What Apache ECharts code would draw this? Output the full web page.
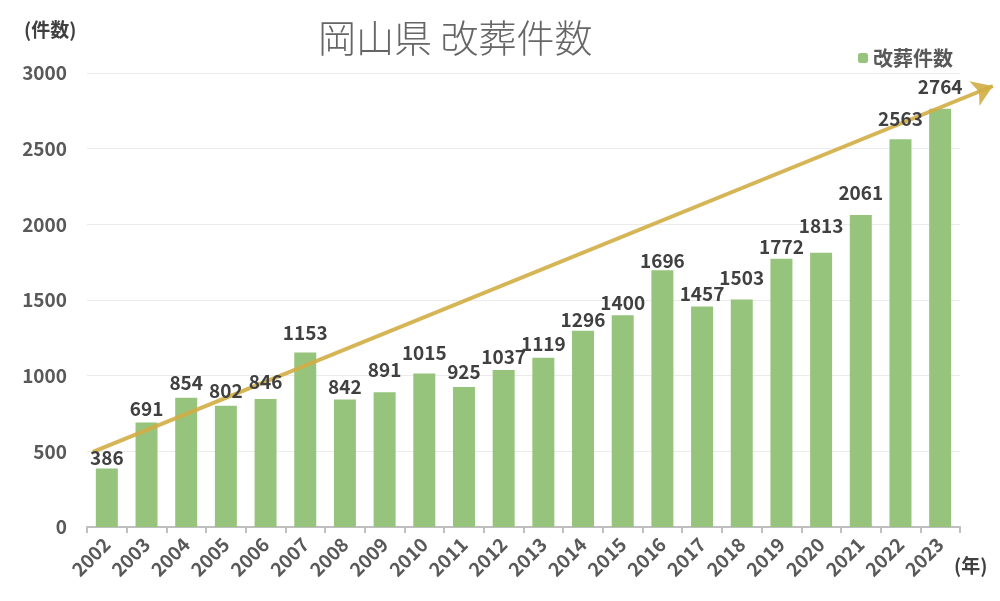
<!DOCTYPE html>
<html><head><meta charset="utf-8">
<script src="https://cdn.jsdelivr.net/npm/echarts@6/dist/echarts.min.js"></script>
<style>html,body{margin:0;padding:0;background:#fff}#c{width:1000px;height:601px}</style>
</head><body><div id="c"></div>
<script>
const years = ['2002','2003','2004','2005','2006','2007','2008','2009','2010','2011','2012','2013','2014','2015','2016','2017','2018','2019','2020','2021','2022','2023'];
const counts = [386,691,854,802,846,1153,842,891,1015,925,1037,1119,1296,1400,1696,1457,1503,1772,1813,2061,2563,2764];
const yTicks = [0,500,1000,1500,2000,2500,3000];
// trend arrow: [category position, value]
const arrowStart = [-0.35, 496];
const arrowEnd = [22.33, 2914];
// style: label gap above each bar (px), as placed in the original
const labelGap = [5,8,9,9,12,14,7,17,15,10,8,8,6,7,2,7,16,7,21,17,15,16];

const font = '"Noto Sans CJK JP", "Noto Sans", sans-serif';
const W = 1000, gl = 87, gr = 40;
const arrowAxisMax = -0.5 + years.length * (W - gl) / (W - gl - gr);

const chart = echarts.init(document.getElementById('c'));
chart.setOption({
  backgroundColor: '#fff',
  animation: false,
  title: {
    text: '岡山県 改葬件数', left: 313, top: 14,
    textStyle: {fontFamily: font, fontSize: 38, fontWeight: 300, color: '#666666'}
  },
  legend: {
    data: ['改葬件数'], right: 42, top: 43, itemWidth: 10, itemHeight: 10, itemGap: 6,
    textStyle: {fontFamily: font, fontSize: 20, fontWeight: 'bold', color: '#595959'}
  },
  graphic: [
    {type: 'text', left: 24, top: 20, style: {text: '(件数)', fontFamily: font, fontSize: 19, fontWeight: 'bold', fill: '#404040'}},
    {type: 'text', left: 954, top: 556, style: {text: '(年)', fontFamily: font, fontSize: 19, fontWeight: 'bold', fill: '#404040'}}
  ],
  grid: [
    {left: gl, right: gr, top: 73, bottom: 74},
    {left: gl, right: 0, top: 73, bottom: 74}
  ],
  xAxis: [{
    type: 'category', data: years, boundaryGap: true, gridIndex: 0,
    axisLine: {lineStyle: {color: '#bfbfbf', width: 2}},
    axisTick: {show: true, length: 6, lineStyle: {color: '#bfbfbf', width: 2}},
    axisLabel: {rotate: 45, margin: 14, fontFamily: font, fontSize: 19, fontWeight: 'bold', color: '#595959', interval: 0}
  }, {
    type: 'value', gridIndex: 1, min: -0.5, max: arrowAxisMax, show: false
  }],
  yAxis: [{
    type: 'value', min: 0, max: 3000, interval: 500, gridIndex: 0,
    axisLine: {show: false}, axisTick: {show: false},
    splitLine: {lineStyle: {color: '#ebebeb', width: 1}},
    axisLabel: {margin: 20, fontFamily: font, fontSize: 19, fontWeight: 'bold', color: '#595959',
      formatter: v => yTicks.includes(v) ? String(v) : ''}
  }, {
    type: 'value', min: 0, max: 3000, gridIndex: 1, show: false
  }],
  series: [{
    name: '改葬件数', type: 'bar', data: counts, barWidth: 22, z: 2,
    itemStyle: {color: '#97c47c'}
  }, {
    type: 'line', xAxisIndex: 1, yAxisIndex: 1, data: [arrowStart, arrowEnd], clip: false,
    symbol: 'none', lineStyle: {opacity: 0}, silent: true, z: 5,
    markLine: {
      silent: true, symbol: ['none', 'arrow'], symbolSize: 20,
      lineStyle: {color: '#d1ad45', width: 4, type: 'solid', opacity: 0.9},
      label: {show: false},
      data: [[{coord: arrowStart}, {coord: arrowEnd}]]
    }
  }, {
    // transparent overlay carrying the value labels above the arrow
    name: 'labels', type: 'bar', barWidth: 22, barGap: '-100%', z: 10, silent: true,
    data: counts.map((v, i) => ({value: v, label: {distance: Math.max(0, labelGap[i] - 4)}})),
    itemStyle: {color: 'rgba(0,0,0,0)'},
    label: {show: true, position: 'top', fontFamily: font, fontSize: 19, fontWeight: 'bold', color: '#404040'}
  }]
});
</script></body></html>
